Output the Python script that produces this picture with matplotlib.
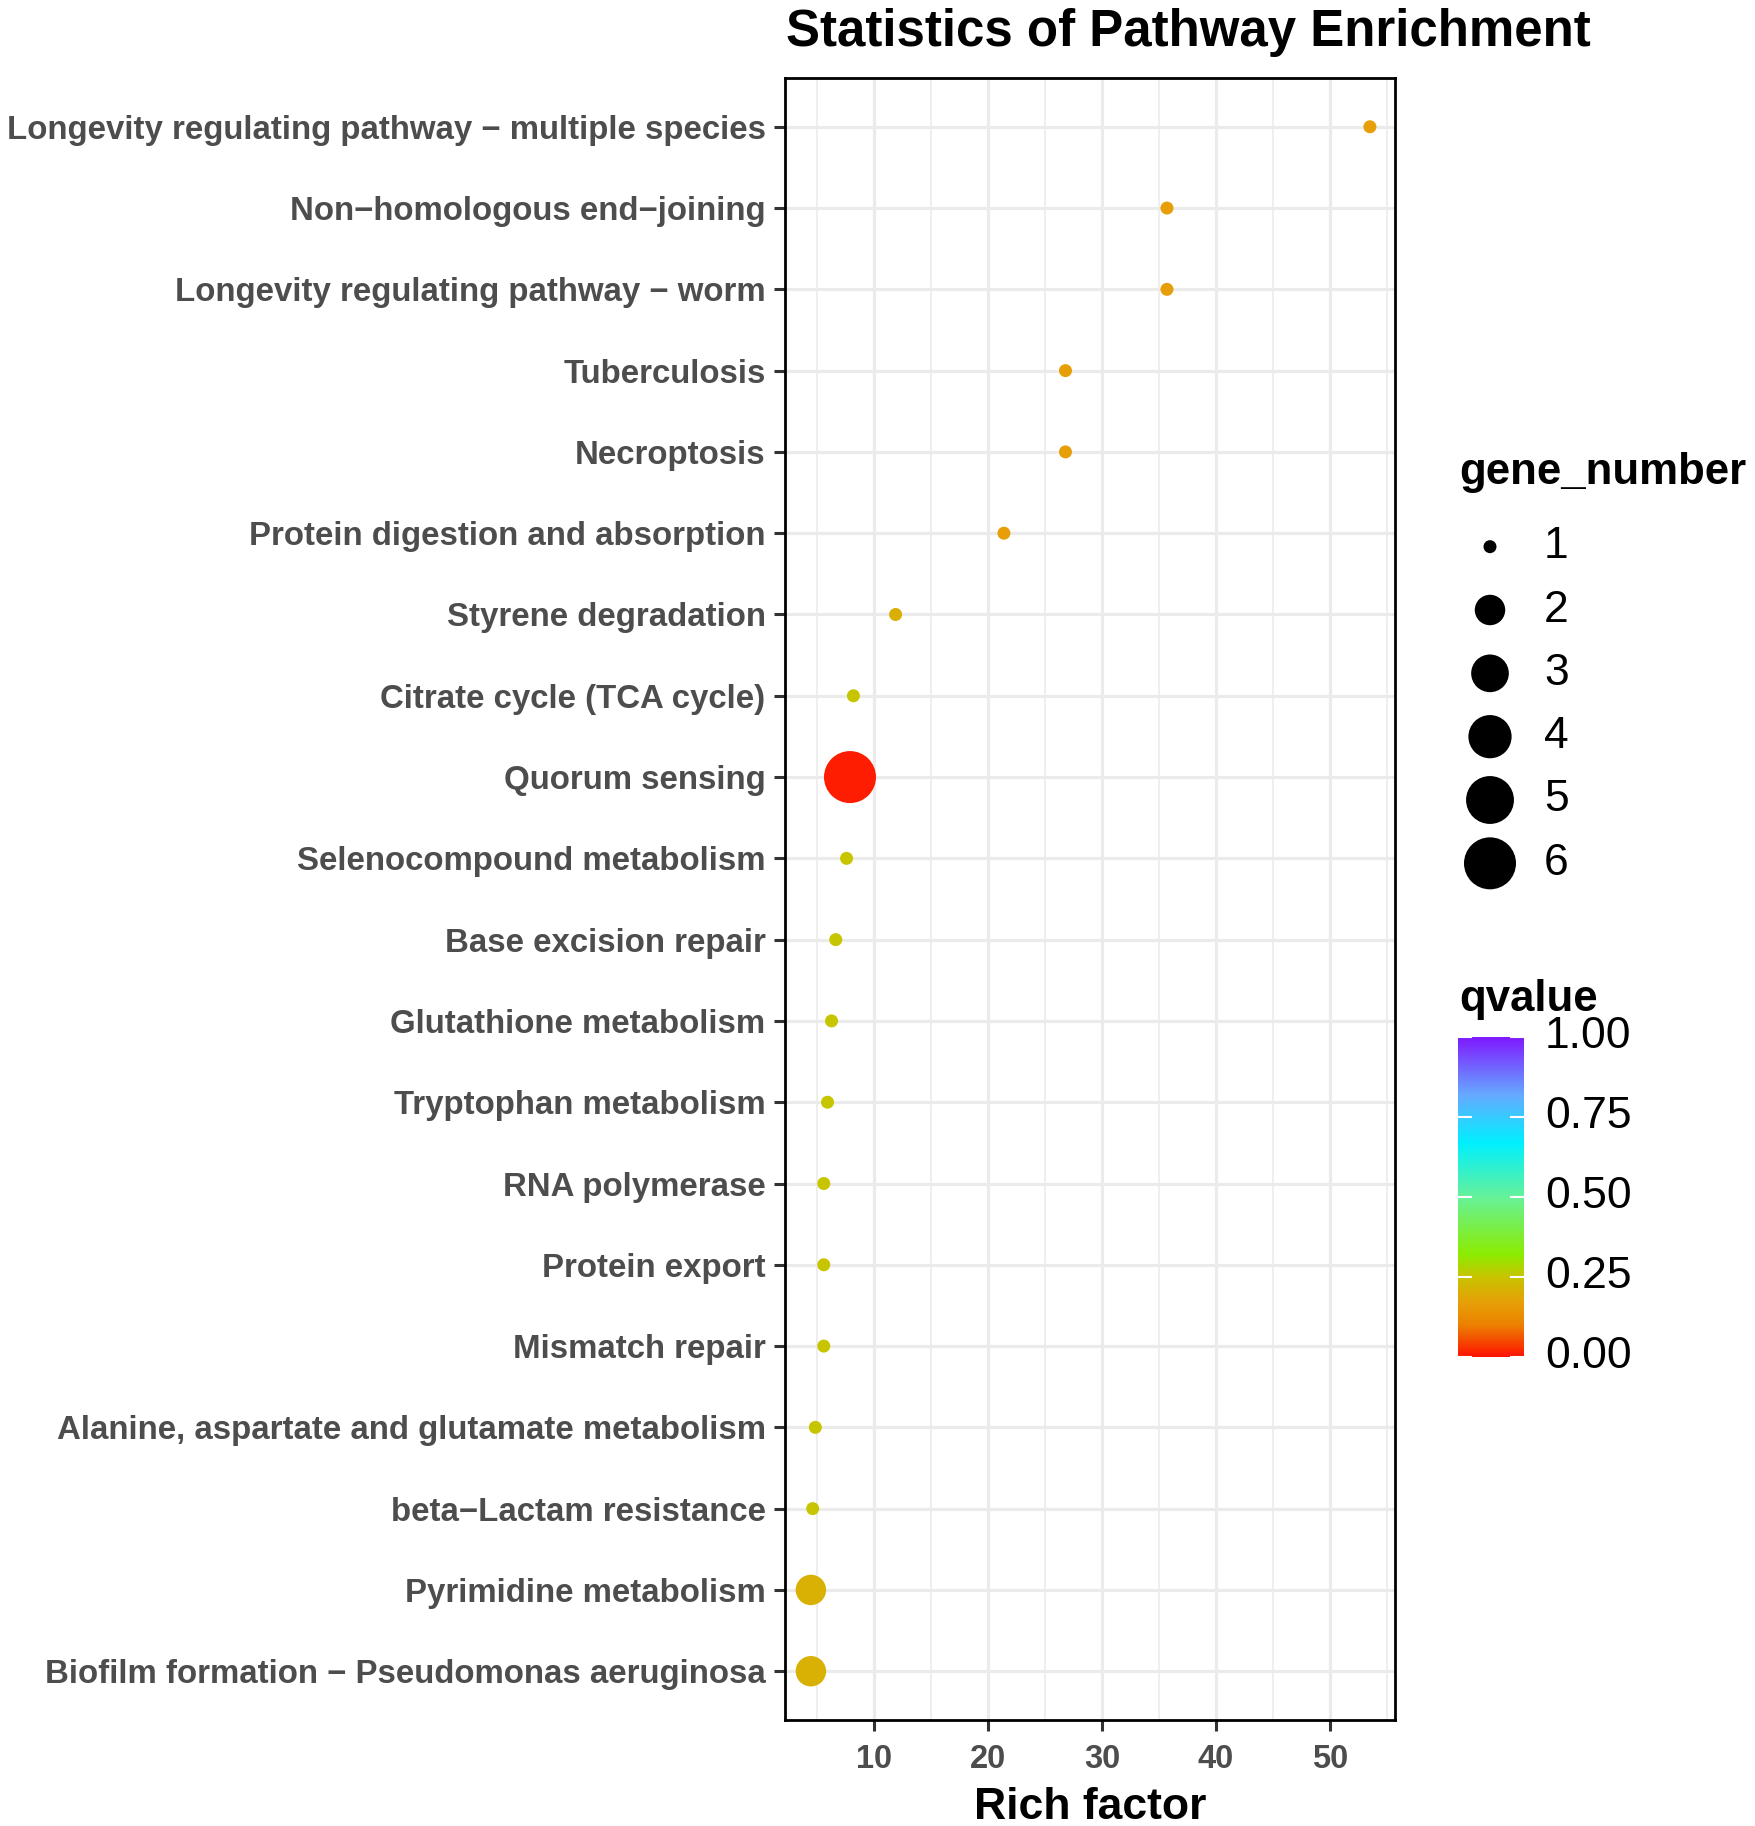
import matplotlib
matplotlib.use("Agg")
import matplotlib.pyplot as plt
import numpy as np
from matplotlib import font_manager
from matplotlib.colors import LinearSegmentedColormap, Normalize

# ---------------- data ----------------
pathways = [
    "Longevity regulating pathway \u2212 multiple species",
    "Non\u2212homologous end\u2212joining",
    "Longevity regulating pathway \u2212 worm",
    "Tuberculosis",
    "Necroptosis",
    "Protein digestion and absorption",
    "Styrene degradation",
    "Citrate cycle (TCA cycle)",
    "Quorum sensing",
    "Selenocompound metabolism",
    "Base excision repair",
    "Glutathione metabolism",
    "Tryptophan metabolism",
    "RNA polymerase",
    "Protein export",
    "Mismatch repair",
    "Alanine, aspartate and glutamate metabolism",
    "beta\u2212Lactam resistance",
    "Pyrimidine metabolism",
    "Biofilm formation \u2212 Pseudomonas aeruginosa",
]
rich_factor = [53.5, 35.7, 35.7, 26.8, 26.8, 21.4, 11.9, 8.2, 7.9, 7.6,
               6.65, 6.28, 5.93, 5.6, 5.6, 5.6, 4.86, 4.63, 4.47, 4.47]
gene_number = [1, 1, 1, 1, 1, 1, 1, 1, 6, 1,
               1, 1, 1, 1, 1, 1, 1, 1, 2, 2]
qvalue = [0.17, 0.17, 0.17, 0.17, 0.17, 0.17, 0.20, 0.25, 0.01, 0.25,
          0.25, 0.25, 0.25, 0.25, 0.25, 0.25, 0.25, 0.25, 0.21, 0.21]
x_ticks = [10, 20, 30, 40, 50]
size_breaks = [1, 2, 3, 4, 5, 6]
q_breaks = [0.00, 0.25, 0.50, 0.75, 1.00]

# ---------------- fonts ----------------
avail = {f.name for f in font_manager.fontManager.ttflist}
def pick(cands):
    for c in cands:
        if c in avail:
            return c
    return "DejaVu Sans"
SANS = pick(["Liberation Sans", "Arial", "DejaVu Sans"])
FAM = [SANS, "DejaVu Sans"]

# ---------------- figure ----------------
W, H = 1755, 1826
DPI = 100
fig = plt.figure(figsize=(W / DPI, H / DPI), dpi=DPI)
fig.patch.set_facecolor("white")
renderer = fig.canvas.get_renderer()

def fx(px):
    return px / W
def fy(py):
    return 1 - py / H

def fit_width(txt, target_px):
    """Scale a text's font size so its rendered width matches target_px."""
    for _ in range(3):
        w = txt.get_window_extent(renderer=renderer).width
        if w > 0:
            txt.set_fontsize(txt.get_fontsize() * target_px / w)

# main axes (pixel box: left 785, right 1395, top 78, bottom 1720)
ax = fig.add_axes([fx(785), fy(1720), fx(1395) - fx(785), fy(78) - fy(1720)])

anchors = [(0.00, "#FF1400"), (0.10, "#EC8200"), (0.17, "#E6A008"),
           (0.25, "#C8C400"), (0.32, "#8CEC00"), (0.50, "#66F29A"),
           (0.67, "#00F0FF"), (0.82, "#66AAFF"), (1.00, "#7F1AFF")]
cmap = LinearSegmentedColormap.from_list("qv", anchors)
norm = Normalize(0, 1)

def diam_px(v):
    return 13 + 39 * np.sqrt((np.asarray(v, float) - 1) / 5.0)

def s_of(v):
    return (diam_px(v) * 72.0 / DPI) ** 2

n = len(pathways)
ypos = np.arange(n)[::-1]  # first item at top

ax.set_xlim(2.2, 55.7)
ax.set_ylim(-0.6, n - 1 + 0.6)

# grid
for xv in np.arange(5, 56, 5):
    major = (xv % 10 == 0)
    ax.axvline(xv, color="#EBEBEB", lw=2.3 if major else 1.2, zorder=0)
for yv in ypos:
    ax.axhline(yv, color="#EBEBEB", lw=2.3, zorder=0)

ax.scatter(rich_factor, ypos, s=s_of(gene_number), c=qvalue, cmap=cmap,
           norm=norm, linewidths=0, zorder=3)

ax.set_yticks(ypos)
ax.set_yticklabels(pathways)
ax.set_xticks(x_ticks)
ax.set_xticklabels([str(t) for t in x_ticks])
ax.tick_params(axis="both", length=8, width=2.2, color="#333333", pad=6)
ax.tick_params(axis="x", pad=9)
for sp in ax.spines.values():
    sp.set_linewidth(2.0)
    sp.set_color("black")

ylabs = ax.get_yticklabels()
for lab in ylabs:
    lab.set_fontfamily(FAM)
    lab.set_fontweight("bold")
    lab.set_color("#4D4D4D")
    lab.set_fontsize(22)
# fit longest label to reference width, apply same size to all
fit_width(ylabs[0], 759)
for lab in ylabs:
    lab.set_fontsize(ylabs[0].get_fontsize())

for lab in ax.get_xticklabels():
    lab.set_fontfamily(FAM)
    lab.set_fontweight("bold")
    lab.set_color("#4D4D4D")
    lab.set_fontsize(23.5)

xl = ax.set_xlabel("Rich factor", fontsize=26, fontweight="bold",
                   family=FAM, labelpad=9)
fit_width(xl, 232)

title = fig.text(fx(786), fy(46), "Statistics of Pathway Enrichment",
                 fontsize=30, fontweight="bold", family=FAM, ha="left",
                 va="baseline")
fit_width(title, 806)

# ---------------- size legend ----------------
gt = fig.text(fx(1459), fy(484), "gene_number", fontsize=30, fontweight="bold",
              family=FAM, ha="left", va="baseline")
fit_width(gt, 287)
lax = fig.add_axes([fx(1460), fy(895), fx(1520) - fx(1460), fy(515) - fy(895)])
lax.set_xlim(-1, 1)
lax.set_ylim(6.5, 0.5)
lax.axis("off")
lax.scatter([0] * len(size_breaks), size_breaks, s=s_of(size_breaks),
            color="black", linewidths=0, clip_on=False)
lab_size = 32
for b in size_breaks:
    lax.text(1.8, b, str(b), fontsize=lab_size, family=FAM, ha="left",
             va="center", clip_on=False)

# ---------------- colour bar ----------------
qt = fig.text(fx(1459), fy(1011), "qvalue", fontsize=gt.get_fontsize(),
              fontweight="bold", family=FAM, ha="left", va="baseline")
cax = fig.add_axes([fx(1458), fy(1357), fx(1524) - fx(1458), fy(1037) - fy(1357)])
grad = np.linspace(0, 1, 256).reshape(-1, 1)
cax.imshow(grad, aspect="auto", cmap=cmap, norm=norm, origin="lower",
           extent=[0, 1, 0, 1])
cax.set_xlim(0, 1)
cax.set_ylim(0, 1)
cax.axis("off")
for qb in q_breaks:
    cax.plot([0, 0.2], [qb, qb], color="white", lw=1.5, clip_on=False)
    cax.plot([0.8, 1.0], [qb, qb], color="white", lw=1.5, clip_on=False)
    cax.text(1.32, qb, f"{qb:.2f}", fontsize=lab_size, family=FAM,
             ha="left", va="center", clip_on=False)

fig.savefig("out.png", dpi=DPI, facecolor="white")
